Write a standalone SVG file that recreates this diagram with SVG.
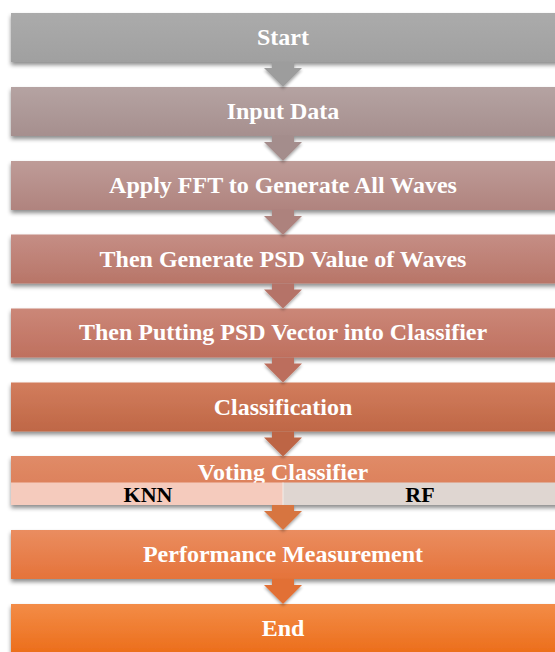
<svg xmlns="http://www.w3.org/2000/svg" width="555" height="652" viewBox="0 0 555 652">
  <defs>
    <filter id="shadow" x="-5%" y="-20%" width="110%" height="160%">
      <feDropShadow dx="0" dy="3" stdDeviation="2" flood-color="#000" flood-opacity="0.45"/>
    </filter>
    <filter id="ashadow" x="-30%" y="-30%" width="160%" height="180%">
      <feDropShadow dx="0" dy="2" stdDeviation="1.5" flood-color="#000" flood-opacity="0.35"/>
    </filter>
    <linearGradient id="g1" x1="0" y1="0" x2="0" y2="1"><stop offset="0" stop-color="#ababab"/><stop offset="1" stop-color="#a0a0a0"/></linearGradient>
    <linearGradient id="g2" x1="0" y1="0" x2="0" y2="1"><stop offset="0" stop-color="#b5a3a2"/><stop offset="1" stop-color="#a68f8e"/></linearGradient>
    <linearGradient id="g3" x1="0" y1="0" x2="0" y2="1"><stop offset="0" stop-color="#be9c98"/><stop offset="1" stop-color="#b0837e"/></linearGradient>
    <linearGradient id="g4" x1="0" y1="0" x2="0" y2="1"><stop offset="0" stop-color="#c58e85"/><stop offset="1" stop-color="#b87568"/></linearGradient>
    <linearGradient id="g5" x1="0" y1="0" x2="0" y2="1"><stop offset="0" stop-color="#cb8778"/><stop offset="1" stop-color="#bf705f"/></linearGradient>
    <linearGradient id="g6" x1="0" y1="0" x2="0" y2="1"><stop offset="0" stop-color="#d27d5d"/><stop offset="1" stop-color="#bf6746"/></linearGradient>
    <linearGradient id="g7" x1="0" y1="0" x2="0" y2="1"><stop offset="0" stop-color="#e08b68"/><stop offset="1" stop-color="#da7a52"/></linearGradient>
    <linearGradient id="g8" x1="0" y1="0" x2="0" y2="1"><stop offset="0" stop-color="#ea8d60"/><stop offset="1" stop-color="#e5733a"/></linearGradient>
    <linearGradient id="g9" x1="0" y1="0" x2="0" y2="1"><stop offset="0" stop-color="#f38c47"/><stop offset="1" stop-color="#ec6e1b"/></linearGradient>
    <path id="arrow" d="M-11,0 H11 V6 H19 L0,25 L-19,6 H-11 Z"/>
  </defs>
  <style>
    .box { filter: url(#shadow); }
    .label { font-family: "Liberation Serif", "Times New Roman", serif; font-weight: bold; font-size: 24px; fill: #ffffff; text-anchor: middle; }
    .cell { font-family: "Liberation Serif", "Times New Roman", serif; font-weight: bold; font-size: 22px; fill: #000000; text-anchor: middle; }
    .arr { filter: url(#ashadow); }
  </style>

  <g id="start">
    <rect class="box" x="11" y="13" width="550" height="49" fill="url(#g1)"/>
    <text class="label" x="283" y="45">Start</text>
  </g>
  <g id="input-data">
    <rect class="box" x="11" y="87" width="550" height="49" fill="url(#g2)"/>
    <text class="label" x="283" y="119">Input Data</text>
  </g>
  <g id="apply-fft">
    <rect class="box" x="11" y="161" width="550" height="49" fill="url(#g3)"/>
    <text class="label" x="283" y="193">Apply FFT to Generate All Waves</text>
  </g>
  <g id="generate-psd">
    <rect class="box" x="11" y="234.5" width="550" height="49" fill="url(#g4)"/>
    <text class="label" x="283" y="266.5">Then Generate PSD Value of Waves</text>
  </g>
  <g id="psd-to-classifier">
    <rect class="box" x="11" y="308.5" width="550" height="49" fill="url(#g5)"/>
    <text class="label" x="283" y="340">Then Putting PSD Vector into Classifier</text>
  </g>
  <g id="classification">
    <rect class="box" x="11" y="382.5" width="550" height="49" fill="url(#g6)"/>
    <text class="label" x="283" y="414.5">Classification</text>
  </g>
  <g id="voting-classifier">
    <rect class="box" x="11" y="456" width="550" height="49" fill="url(#g7)"/>
    <text class="label" x="283" y="480">Voting Classifier</text>
    <rect x="11" y="482.5" width="272" height="22.5" fill="#f5cbbd"/>
    <rect x="283" y="482.5" width="278" height="22.5" fill="#dfd6d1"/>
    <line x1="283" y1="482.5" x2="283" y2="505" stroke="#f3ece8" stroke-width="1"/>
    <text class="cell" x="148" y="502">KNN</text>
    <text class="cell" x="420" y="502">RF</text>
  </g>
  <g id="performance">
    <rect class="box" x="11" y="530" width="550" height="49" fill="url(#g8)"/>
    <text class="label" x="283" y="562">Performance Measurement</text>
  </g>
  <g id="end">
    <rect class="box" x="11" y="604" width="550" height="49" fill="url(#g9)"/>
    <text class="label" x="283" y="636">End</text>
  </g>

  <g id="connectors">
    <use href="#arrow" class="arr" x="283" y="62" fill="#9d9d9d"/>
    <use href="#arrow" class="arr" x="283" y="136" fill="#a48d8c"/>
    <use href="#arrow" class="arr" x="283" y="210" fill="#ad827d"/>
    <use href="#arrow" class="arr" x="283" y="283.5" fill="#b57367"/>
    <use href="#arrow" class="arr" x="283" y="357.5" fill="#bc6e5d"/>
    <use href="#arrow" class="arr" x="283" y="431.5" fill="#bd6545"/>
    <use href="#arrow" class="arr" x="283" y="505" fill="#d7743f"/>
    <use href="#arrow" class="arr" x="283" y="579" fill="#e26f34"/>
  </g>
</svg>
